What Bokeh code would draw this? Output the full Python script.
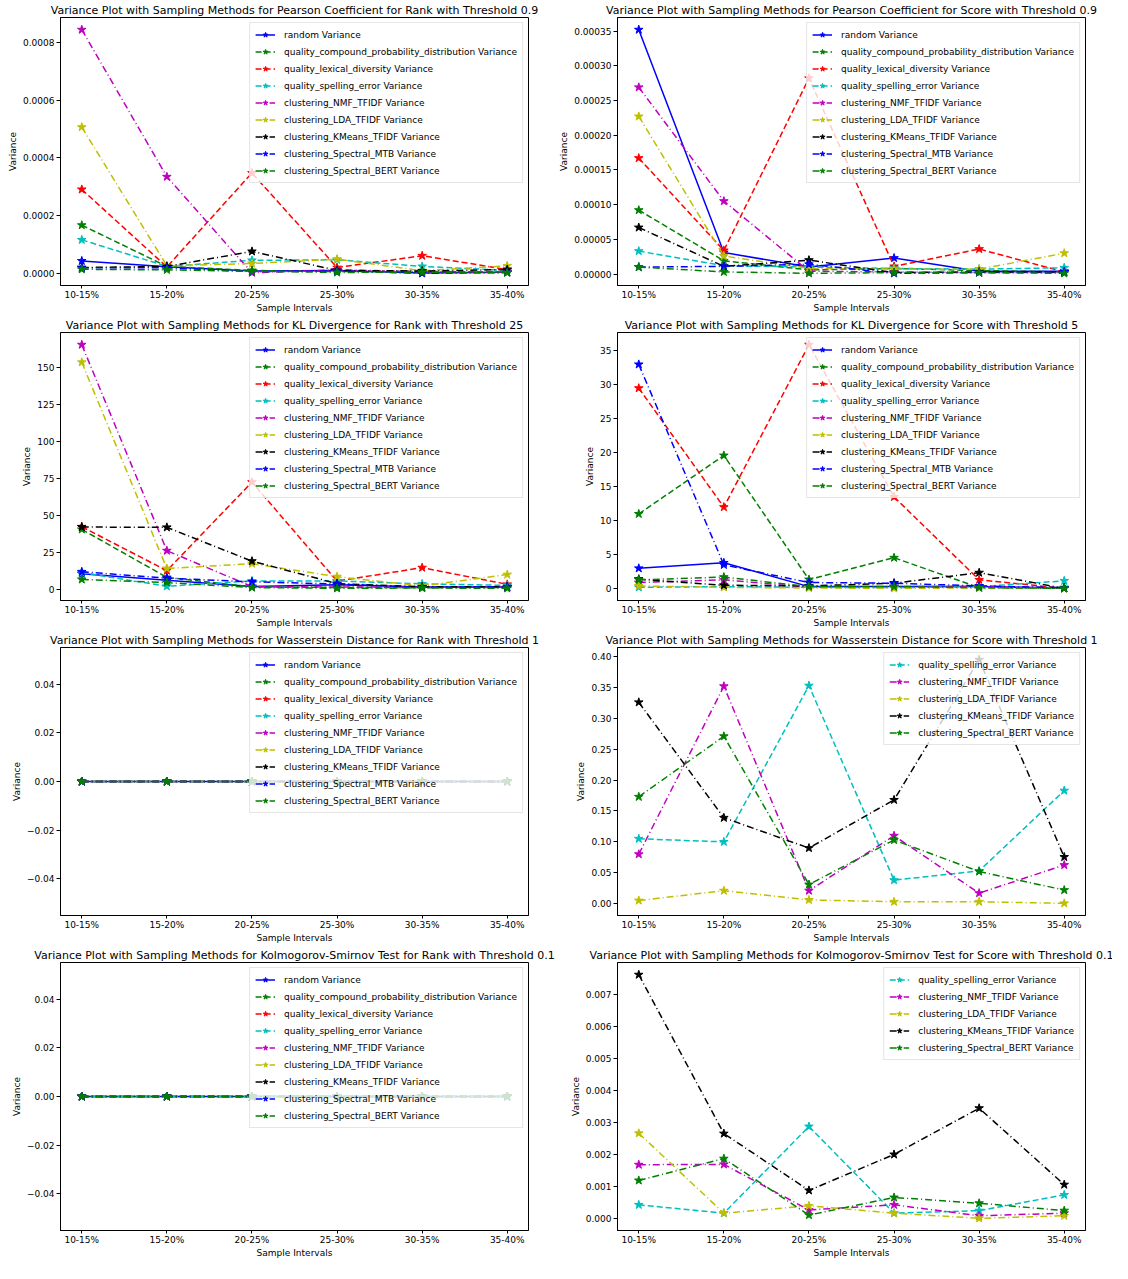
from bokeh.plotting import figure
from bokeh.layouts import gridplot
from bokeh.models import Range1d, FixedTicker, CustomJSTickFormatter
from bokeh.embed import file_html
from bokeh.resources import INLINE

intervals = ["10-15%", "15-20%", "20-25%", "25-30%", "30-35%", "35-40%"]

all_methods = ["random", "quality_compound_probability_distribution", "quality_lexical_diversity",
               "quality_spelling_error", "clustering_NMF_TFIDF", "clustering_LDA_TFIDF",
               "clustering_KMeans_TFIDF", "clustering_Spectral_MTB", "clustering_Spectral_BERT"]
score_methods = ["quality_spelling_error", "clustering_NMF_TFIDF", "clustering_LDA_TFIDF",
                 "clustering_KMeans_TFIDF", "clustering_Spectral_BERT"]

# ---- values (one row per method, in the order of the method lists) ----
pearson_rank = [
    [4.3e-5, 2.3e-5, 0.8e-5, 1.0e-5, 0.1e-5, 0.4e-5],
    [1.67e-4, 2.4e-5, 1.0e-5, 0.6e-5, 0.7e-5, 0.4e-5],
    [2.91e-4, 2.2e-5, 3.48e-4, 2.0e-5, 6.1e-5, 1.3e-5],
    [1.16e-4, 2.4e-5, 4.5e-5, 4.7e-5, 2.4e-5, 1.0e-5],
    [8.45e-4, 3.35e-4, 0.2e-5, 1.2e-5, 0.6e-5, 0.4e-5],
    [5.07e-4, 2.6e-5, 3.4e-5, 4.9e-5, 0.9e-5, 2.6e-5],
    [2.0e-5, 2.4e-5, 7.6e-5, 1.0e-5, 0.8e-5, 1.3e-5],
    [1.9e-5, 1.9e-5, 0.6e-5, 0.8e-5, 0.0, 0.3e-5],
    [1.4e-5, 1.2e-5, 0.7e-5, 0.3e-5, 0.4e-5, 0.2e-5],
]
pearson_score = [
    [3.52e-4, 3.1e-5, 1.0e-5, 2.3e-5, 0.4e-5, 0.4e-5],
    [9.2e-5, 1.9e-5, 0.6e-5, 0.8e-5, 0.5e-5, 0.3e-5],
    [1.67e-4, 3.4e-5, 2.82e-4, 1.1e-5, 3.6e-5, 0.3e-5],
    [3.3e-5, 1.2e-5, 1.0e-5, 0.8e-5, 0.7e-5, 0.9e-5],
    [2.69e-4, 1.05e-4, 0.4e-5, 0.3e-5, 0.2e-5, 0.2e-5],
    [2.27e-4, 2.6e-5, 0.8e-5, 0.7e-5, 0.7e-5, 3.0e-5],
    [6.7e-5, 1.1e-5, 2.0e-5, 0.2e-5, 0.3e-5, 0.3e-5],
    [1.0e-5, 1.1e-5, 1.4e-5, 0.1e-5, 0.2e-5, 0.3e-5],
    [1.0e-5, 0.3e-5, 0.1e-5, 0.2e-5, 0.2e-5, 0.1e-5],
]
kl_rank = [
    [10.5, 6.0, 1.8, 3.0, 1.5, 1.5],
    [40.5, 8.0, 1.5, 1.2, 1.0, 1.2],
    [42.3, 12.6, 72.5, 5.5, 14.6, 3.3],
    [11.2, 2.0, 5.6, 5.6, 3.6, 2.6],
    [165.6, 26.1, 1.8, 1.5, 1.4, 1.4],
    [153.7, 14.0, 17.3, 8.5, 2.2, 9.9],
    [42.1, 41.9, 19.0, 3.8, 1.6, 1.6],
    [11.8, 7.5, 5.0, 3.5, 1.2, 1.6],
    [6.6, 4.5, 1.1, 0.6, 0.8, 0.6],
]
kl_score = [
    [3.0, 3.8, 0.3, 0.3, 0.3, 0.1],
    [11.0, 19.6, 1.35, 4.55, 0.15, 0.05],
    [29.5, 12.0, 35.9, 13.5, 1.3, 0.05],
    [0.2, 0.3, 0.2, 0.15, 0.3, 1.15],
    [0.9, 1.3, 0.2, 0.3, 0.3, 0.1],
    [0.4, 0.2, 0.1, 0.05, 0.1, 0.05],
    [1.4, 0.5, 0.4, 0.8, 2.35, 0.05],
    [33.0, 3.5, 0.9, 0.8, 0.4, 0.15],
    [1.3, 1.7, 0.3, 0.3, 0.15, 0.05],
]
wasserstein_rank = [
    [0.0, 0.0, 0.0, 0.0, 0.0, 0.0],
    [0.0, 0.0, 0.0, 0.0, 0.0, 0.0],
    [0.0, 0.0, 0.0, 0.0, 0.0, 0.0],
    [0.0, 0.0, 0.0, 0.0, 0.0, 0.0],
    [0.0, 0.0, 0.0, 0.0, 0.0, 0.0],
    [0.0, 0.0, 0.0, 0.0, 0.0, 0.0],
    [0.0, 0.0, 0.0, 0.0, 0.0, 0.0],
    [0.0, 0.0, 0.0, 0.0, 0.0, 0.0],
    [0.0, 0.0, 0.0, 0.0, 0.0, 0.0],
]
wasserstein_score = [
    [0.105, 0.100, 0.353, 0.038, 0.053, 0.183],
    [0.080, 0.352, 0.021, 0.110, 0.017, 0.0625],
    [0.005, 0.021, 0.006, 0.003, 0.003, 0.0005],
    [0.326, 0.139, 0.090, 0.168, 0.395, 0.0755],
    [0.173, 0.271, 0.031, 0.103, 0.052, 0.022],
]
ks_rank = [
    [0.0, 0.0, 0.0, 0.0, 0.0, 0.0],
    [0.0, 0.0, 0.0, 0.0, 0.0, 0.0],
    [0.0, 0.0, 0.0, 0.0, 0.0, 0.0],
    [0.0, 0.0, 0.0, 0.0, 0.0, 0.0],
    [0.0, 0.0, 0.0, 0.0, 0.0, 0.0],
    [0.0, 0.0, 0.0, 0.0, 0.0, 0.0],
    [0.0, 0.0, 0.0, 0.0, 0.0, 0.0],
    [0.0, 0.0, 0.0, 0.0, 0.0, 0.0],
    [0.0, 0.0, 0.0, 0.0, 0.0, 0.0],
]
ks_score = [
    [0.00044, 0.00018, 0.00288, 0.00018, 0.00026, 0.00075],
    [0.00169, 0.00170, 0.00028, 0.00044, 0.00010, 0.00018],
    [0.00267, 0.00018, 0.00041, 0.00018, 0.00002, 0.00010],
    [0.00761, 0.00266, 0.00089, 0.00201, 0.00345, 0.00107],
    [0.00120, 0.00188, 0.00012, 0.00067, 0.00049, 0.00026],
]

titles = [
    "Variance Plot with Sampling Methods for Pearson Coefficient for Rank with Threshold 0.9",
    "Variance Plot with Sampling Methods for Pearson Coefficient for Score with Threshold 0.9",
    "Variance Plot with Sampling Methods for KL Divergence for Rank with Threshold 25",
    "Variance Plot with Sampling Methods for KL Divergence for Score with Threshold 5",
    "Variance Plot with Sampling Methods for Wasserstein Distance for Rank with Threshold 1",
    "Variance Plot with Sampling Methods for Wasserstein Distance for Score with Threshold 1",
    "Variance Plot with Sampling Methods for Kolmogorov-Smirnov Test for Rank with Threshold 0.1",
    "Variance Plot with Sampling Methods for Kolmogorov-Smirnov Test for Score with Threshold 0.1",
]

# y tick values and decimals of their labels
ticks_pearson_rank = [0.0, 0.0002, 0.0004, 0.0006, 0.0008]
ticks_pearson_score = [0.0, 0.00005, 0.0001, 0.00015, 0.0002, 0.00025, 0.0003, 0.00035]
ticks_kl_rank = [0, 25, 50, 75, 100, 125, 150]
ticks_kl_score = [0, 5, 10, 15, 20, 25, 30, 35]
ticks_zero = [-0.04, -0.02, 0.0, 0.02, 0.04]
ticks_wass_score = [0.0, 0.05, 0.1, 0.15, 0.2, 0.25, 0.3, 0.35, 0.4]
ticks_ks_score = [0.0, 0.001, 0.002, 0.003, 0.004, 0.005, 0.006, 0.007]

# ---- styles ----
FONT = "DejaVu Sans"
method_color = {
    "random": "#0000ff",
    "quality_compound_probability_distribution": "#008000",
    "quality_lexical_diversity": "#ff0000",
    "quality_spelling_error": "#00bfbf",
    "clustering_NMF_TFIDF": "#bf00bf",
    "clustering_LDA_TFIDF": "#bfbf00",
    "clustering_KMeans_TFIDF": "#000000",
    "clustering_Spectral_MTB": "#0000ff",
    "clustering_Spectral_BERT": "#008000",
}


def dash_for(m):
    if m == "random":
        return "solid"
    if m.startswith("quality"):
        return "6 3"
    return "7 3 1 3"


def make_fig(title, data, methods, ticks, decimals, col):
    flat = [v for row in data for v in row]
    lo, hi = min(flat), max(flat)
    if hi == lo:
        lo, hi = lo - 0.05, hi + 0.05
    pad = 0.05 * (hi - lo)
    n = len(intervals)
    xs = list(range(n))
    p = figure(width=556, height=315, output_backend="svg", toolbar_location=None,
               x_range=Range1d(-0.05 * (n - 1), (n - 1) * 1.05),
               y_range=Range1d(lo - pad, hi + pad),
               min_border_left=60 if col == 0 else 56,
               min_border_right=28 if col == 0 else 27,
               min_border_top=13, min_border_bottom=0)
    p.title.text = title
    p.title.text_font = FONT
    p.title.text_font_size = "11px"
    p.title.text_font_style = "normal"
    p.title.text_color = "black"
    p.title.align = "center"
    p.title.standoff = 2

    for m, row in zip(methods, data):
        c = method_color[m]
        lbl = m + " Variance"
        p.line(xs, row, line_color=c, line_width=1.5, line_dash=dash_for(m), legend_label=lbl)
        p.scatter(xs, row, marker="star", size=9, fill_color=c, line_color=c, legend_label=lbl)

    p.xgrid.visible = False
    p.ygrid.visible = False
    p.outline_line_color = "black"
    p.outline_line_width = 1
    p.background_fill_color = "white"

    for ax in (p.xaxis[0], p.yaxis[0]):
        ax.axis_line_color = "black"
        ax.major_tick_line_color = "black"
        ax.major_tick_out = 4
        ax.major_tick_in = 0
        ax.minor_tick_line_color = None
        ax.major_label_text_font = FONT
        ax.major_label_text_font_size = "9px"
        ax.major_label_text_color = "black"
        ax.major_label_standoff = 2
        ax.axis_label_text_font = FONT
        ax.axis_label_text_font_size = "9px"
        ax.axis_label_text_font_style = "normal"
        ax.axis_label_text_color = "black"
        ax.axis_label_standoff = 2
    xa = p.xaxis[0]
    xa.major_tick_out = 3
    xa.major_label_standoff = 1
    xa.axis_label_standoff = 0
    xa.major_label_text_line_height = 1.0
    xa.axis_label_text_line_height = 1.0

    p.xaxis.axis_label = "Sample Intervals"
    p.yaxis.axis_label = "Variance"
    p.xaxis.ticker = FixedTicker(ticks=xs)
    p.xaxis.formatter = CustomJSTickFormatter(args=dict(labels=intervals),
                                              code="return labels[Math.round(tick)] || '';")
    p.yaxis.ticker = FixedTicker(ticks=ticks)
    p.yaxis.formatter = CustomJSTickFormatter(args=dict(d=decimals),
                                              code="return tick.toFixed(d).replace('-', '\u2212');")

    lg = p.legend[0]
    lg.location = "top_right"
    lg.margin = 5
    lg.padding = 5
    lg.spacing = 4
    lg.glyph_width = 20
    lg.glyph_height = 13
    lg.label_height = 13
    lg.label_standoff = 9
    lg.label_text_font = FONT
    lg.label_text_font_size = "9px"
    lg.label_text_color = "black"
    lg.border_line_color = "#cccccc"
    lg.border_line_width = 1
    lg.background_fill_color = "white"
    lg.background_fill_alpha = 0.8
    return p


p1 = make_fig(titles[0], pearson_rank, all_methods, ticks_pearson_rank, 4, 0)
p2 = make_fig(titles[1], pearson_score, all_methods, ticks_pearson_score, 5, 1)
p3 = make_fig(titles[2], kl_rank, all_methods, ticks_kl_rank, 0, 0)
p4 = make_fig(titles[3], kl_score, all_methods, ticks_kl_score, 0, 1)
p5 = make_fig(titles[4], wasserstein_rank, all_methods, ticks_zero, 2, 0)
p6 = make_fig(titles[5], wasserstein_score, score_methods, ticks_wass_score, 2, 1)
p7 = make_fig(titles[6], ks_rank, all_methods, ticks_zero, 2, 0)
p8 = make_fig(titles[7], ks_score, score_methods, ticks_ks_score, 3, 1)

grid = gridplot([[p1, p2], [p3, p4], [p5, p6], [p7, p8]], toolbar_location=None)

open("out.html", "w").write(file_html(grid, INLINE))
